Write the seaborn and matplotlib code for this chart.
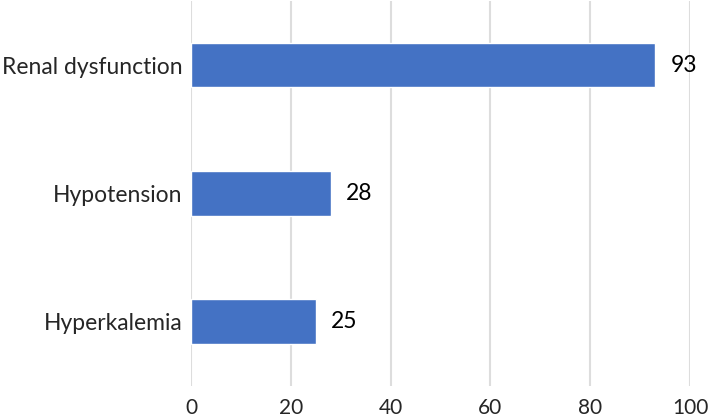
import pandas as pd
import seaborn as sns
import matplotlib.pyplot as plt

events = ['Renal dysfunction', 'Hypotension', 'Hyperkalemia']
counts = [93, 28, 25]
x_ticks = [0, 20, 40, 60, 80, 100]

df = pd.DataFrame({'event': events, 'count': counts})

sns.set_style("white")
plt.rcParams['font.family'] = ['Lato', 'DejaVu Sans']

fig = plt.figure(figsize=(7.09, 4.18), dpi=100)
ax = fig.add_axes([0.2694, 0.0766, 0.7038, 0.9214])

sns.barplot(data=df, x='count', y='event', orient='h', color='#4472C4',
            width=0.35, saturation=1, ax=ax, zorder=3)

# value labels next to each bar
for cont in ax.containers:
    ax.bar_label(cont, padding=11, fontsize=16.5, color='black')

ax.set_xlim(0, 100)
ax.set_xticks(x_ticks)
ax.grid(axis='x', color='#DDDDDD', linewidth=1.5, zorder=0)
ax.set_axisbelow(True)
for side in ['top', 'right', 'bottom', 'left']:
    ax.spines[side].set_visible(False)
ax.tick_params(axis='x', length=0, pad=9, labelsize=15)
ax.tick_params(axis='y', length=0, pad=6, labelsize=16.5)
ax.set_xlabel('')
ax.set_ylabel('')

fig.savefig('out.png', dpi=100)
